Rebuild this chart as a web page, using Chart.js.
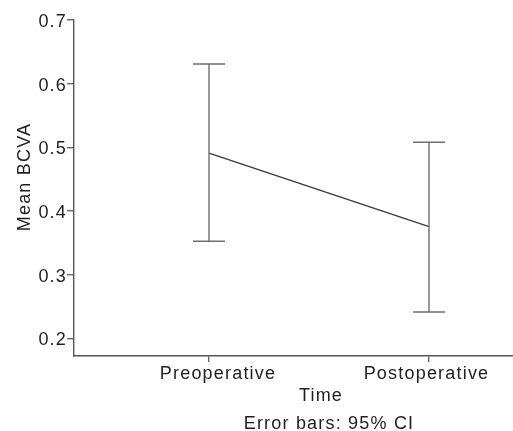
<!DOCTYPE html>
<html>
<head>
<meta charset="utf-8">
<script src="https://cdn.jsdelivr.net/npm/chart.js@4.4.1/dist/chart.umd.min.js"></script>
<style>
html,body{margin:0;padding:0;background:#fff;}
#wrap{position:relative;width:513px;height:431px;}
</style>
</head>
<body>
<div id="wrap"><canvas id="c" width="513" height="431"></canvas></div>
<script>
const categories = ["Preoperative", "Postoperative"];
const meanValues = [0.491, 0.3755];
const lowerCI = [0.3525, 0.2414];
const upperCI = [0.631, 0.508];
const yTicks = [0.2, 0.3, 0.4, 0.5, 0.6, 0.7];
const yTitle = "Mean BCVA";
const xTitle = "Time";
const footnote = "Error bars: 95% CI";

const FONT = "'Liberation Sans', Arial, sans-serif";
const TEXT = "#1e1e1e";
const SPACING = '1.2px';
const X_LABEL_SHIFT = [9, -2.5];

const spacingPlugin = {
  id: 'spacing',
  beforeInit(chart){ chart.ctx.letterSpacing = SPACING; },
  beforeLayout(chart){ chart.ctx.letterSpacing = SPACING; },
  beforeDraw(chart){
    chart.ctx.letterSpacing = SPACING;
    const items = chart.scales.x.getLabelItems();
    items.forEach((it, i) => {
      if (!it._shifted) { it.options.translation[0] += (X_LABEL_SHIFT[i] || 0); it._shifted = true; }
    });
  }
};

const errorBarPlugin = {
  id: 'errorBars',
  afterDatasetsDraw(chart){
    const {ctx, scales:{x, y}} = chart;
    ctx.save();
    ctx.strokeStyle = '#6e6e6e';
    ctx.lineWidth = 1.4;
    const cap = 16;
    categories.forEach((c, i) => {
      const px = x.getPixelForValue(i);
      const pl = y.getPixelForValue(lowerCI[i]);
      const pu = y.getPixelForValue(upperCI[i]);
      ctx.beginPath();
      ctx.moveTo(px, pu); ctx.lineTo(px, pl);
      ctx.moveTo(px - cap, pu); ctx.lineTo(px + cap, pu);
      ctx.moveTo(px - cap, pl); ctx.lineTo(px + cap, pl);
      ctx.stroke();
    });
    ctx.restore();
  }
};

const titlesPlugin = {
  id: 'titles',
  afterDraw(chart){
    const ctx = chart.ctx;
    ctx.save();
    ctx.letterSpacing = SPACING;
    ctx.fillStyle = TEXT;
    ctx.font = "18px " + FONT;
    ctx.textAlign = 'center';
    ctx.textBaseline = 'alphabetic';
    ctx.fillText(xTitle, 321, 401);
    ctx.fillText(footnote, 329, 428.5);
    ctx.translate(30, 177);
    ctx.rotate(-Math.PI/2);
    ctx.fillText(yTitle, 0, 0);
    ctx.restore();
  }
};

new Chart(document.getElementById('c'), {
  type: 'line',
  data: {
    datasets: [{
      data: meanValues.map((v, i) => ({x: i, y: v})),
      borderColor: '#3a3a3a',
      borderWidth: 1.4,
      pointRadius: 0,
      fill: false,
      tension: 0
    }]
  },
  options: {
    responsive: false,
    animation: false,
    devicePixelRatio: 1,
    layout: { padding: { top: 20, left: 0, right: 0, bottom: 0 } },
    plugins: { legend: { display: false }, tooltip: { enabled: false } },
    scales: {
      x: {
        type: 'linear',
        min: -0.6136,
        max: 1.3818,
        afterBuildTicks(s){ s.ticks = categories.map((c, i) => ({value: i})); },
        afterFit(s){ s.height = 75; s.paddingLeft = 0; s.paddingRight = 0; },
        ticks: {
          autoSkip: false,
          maxRotation: 0,
          color: TEXT,
          font: { size: 18, family: FONT },
          padding: 1.5,
          callback: (v) => categories[v] ?? ''
        },
        grid: { display: true, drawOnChartArea: false, drawTicks: true, tickLength: 6, color: '#666', lineWidth: 1.4 },
        border: { display: true, color: '#555', width: 1.4 }
      },
      y: {
        type: 'linear',
        min: 0.1722,
        max: 0.7,
        afterBuildTicks(s){ s.ticks = yTicks.map(v => ({value: v})); },
        afterFit(s){ s.width = 74; s.paddingTop = 0; s.paddingBottom = 0; },
        ticks: {
          color: TEXT,
          font: { size: 18, family: FONT },
          padding: 0,
          labelOffset: 2,
          callback: (v) => v.toFixed(1)
        },
        grid: { display: true, drawOnChartArea: false, drawTicks: true, tickLength: 7, color: '#666', lineWidth: 1.4 },
        border: { display: true, color: '#555', width: 1.4 }
      }
    }
  },
  plugins: [spacingPlugin, errorBarPlugin, titlesPlugin]
});
</script>
</body>
</html>
